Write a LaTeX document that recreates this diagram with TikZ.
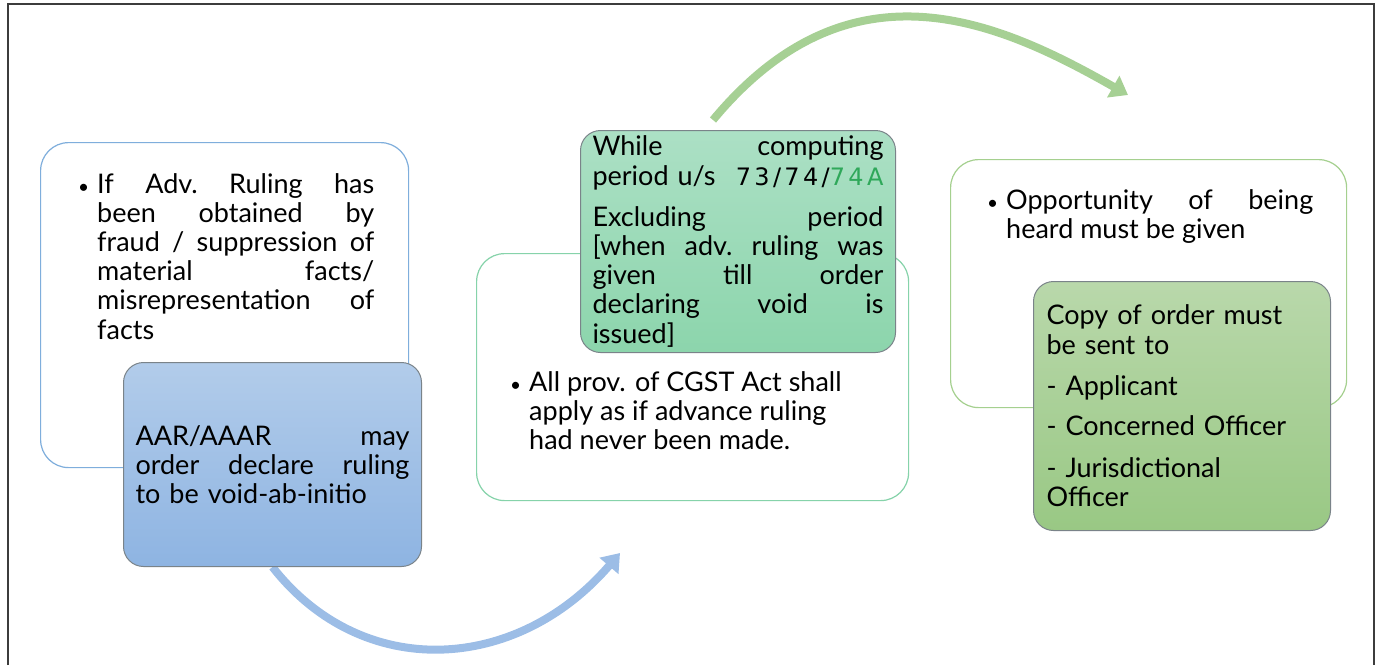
\documentclass[tikz,border=0pt]{standalone}
\usepackage{fontspec}
\setmainfont{Lato}
\newfontfamily\digitfont[LetterSpace=14]{DejaVu Sans}
\usetikzlibrary{arrows.meta,positioning,backgrounds}
\definecolor{frameline}{HTML}{3C3C3C}
\definecolor{skyline}{HTML}{7FAEDC}
\definecolor{mintline}{HTML}{86D3AA}
\definecolor{leafline}{HTML}{A5D08F}
\definecolor{skytop}{HTML}{B2CCEA}
\definecolor{skybot}{HTML}{8EB4E2}
\definecolor{minttop}{HTML}{ACE0C5}
\definecolor{mintbot}{HTML}{8CD5AC}
\definecolor{leaftop}{HTML}{B9D8AB}
\definecolor{leafbot}{HTML}{99C884}
\definecolor{skyarc}{HTML}{9CBDE6}
\definecolor{leafarc}{HTML}{A6D094}
\definecolor{secgreen}{HTML}{2FA85A}
\definecolor{boxedge}{HTML}{7A8389}

% bullet followed by a hanging block of text
\newcommand{\bulletpar}[2]{\makebox[19pt][l]{\fontsize{19}{19}\selectfont\textbullet}\parbox[t]{#1}{#2}}

\tikzset{
  outline/.style={draw=#1, line width=1.2pt, fill=white, rounded corners=28pt,
    anchor=north west, inner sep=0pt},
  plate/.style 2 args={draw=boxedge, line width=1pt, top color=#1, bottom color=#2,
    rounded corners=20pt, anchor=north west, align=left, inner xsep=12pt, inner ysep=0pt},
  pointtext/.style={anchor=base west, inner sep=0pt},
  arcline/.style={draw=#1, line width=8pt, -{Triangle[width=24pt,length=17pt]}},
}

\begin{document}
\begin{tikzpicture}[x=1pt,y=-1pt,font=\fontsize{27}{29.2}\selectfont]
\useasboundingbox (0,0) rectangle (1377,665);
\draw[frameline, line width=2pt] (8,665) -- (8,4) -- (1374,4) -- (1374,665);

% white boxes with coloured outline
\node[outline=skyline, minimum width=368pt, minimum height=325pt] (fraud) at (40,142) {};
\node[outline=mintline, minimum width=432pt, minimum height=247pt] (cgst) at (476,253) {};
\node[outline=leafline, minimum width=396pt, minimum height=248pt] (hearing) at (950,159) {};

\node[pointtext] (fraudtxt) at (78,193) {\bulletpar{277pt}{If\hfill Adv.\hfill Ruling\hfill has\\
  been\hfill obtained\hfill by\\
  fraud\hfill /\hfill suppression\hfill of\\
  material\hfill facts/\\
  misrepresentation\hfill of\\
  facts}};
\node[pointtext] (cgsttxt) at (510,391) {\bulletpar{360pt}{All prov. of CGST Act shall\\
  apply as if advance ruling\\
  had never been made.}};
\node[pointtext] (hearingtxt) at (987,209) {\bulletpar{307pt}{Opportunity\hfill of\hfill being\\
  heard must be given}};

% shaded boxes on top
\node[plate={skytop}{skybot}, text width=274pt, minimum height=204pt] (voidbox) at (123,362)
  {AAR/AAAR\hfill may\\
   order\hfill declare\hfill ruling\\
   to be void-ab-initio};
\node[plate={minttop}{mintbot}, text width=291pt, minimum height=222pt] (period) at (580,130)
  {While\hfill computing\\
   period u/s\hfill{\digitfont\fontsize{24}{29.2}\selectfont 73/74/\textcolor{secgreen}{74A}}\\[12pt]
   Excluding\hfill period\\
   {[}when\hfill adv.\hfill ruling\hfill was\\
   given\hfill till\hfill order\\
   declaring\hfill void\hfill is\\
   issued]};
\node[plate={leaftop}{leafbot}, text width=271pt, minimum height=249pt, inner xsep=13pt] (copy) at (1033,281)
  {Copy of order must\\
   be sent to\\[12pt]
   - Applicant\\[11pt]
   - Concerned Officer\\[13pt]
   - Jurisdictional\\
   Officer};

% curved arrows between the stages
\coordinate (skytip) at (620,553);
\coordinate (leaftip) at (1128,95);
\begin{scope}[on background layer]
  \draw[arcline=skyarc] (voidbox.south) .. controls +(90,115) and +(-103,120) .. (skytip);
  \draw[arcline=leafarc] ([xshift=-25pt,yshift=10pt]period.north)
    .. controls +(137,-165) and +(-130,-74) .. (leaftip);
\end{scope}
\end{tikzpicture}
\end{document}
